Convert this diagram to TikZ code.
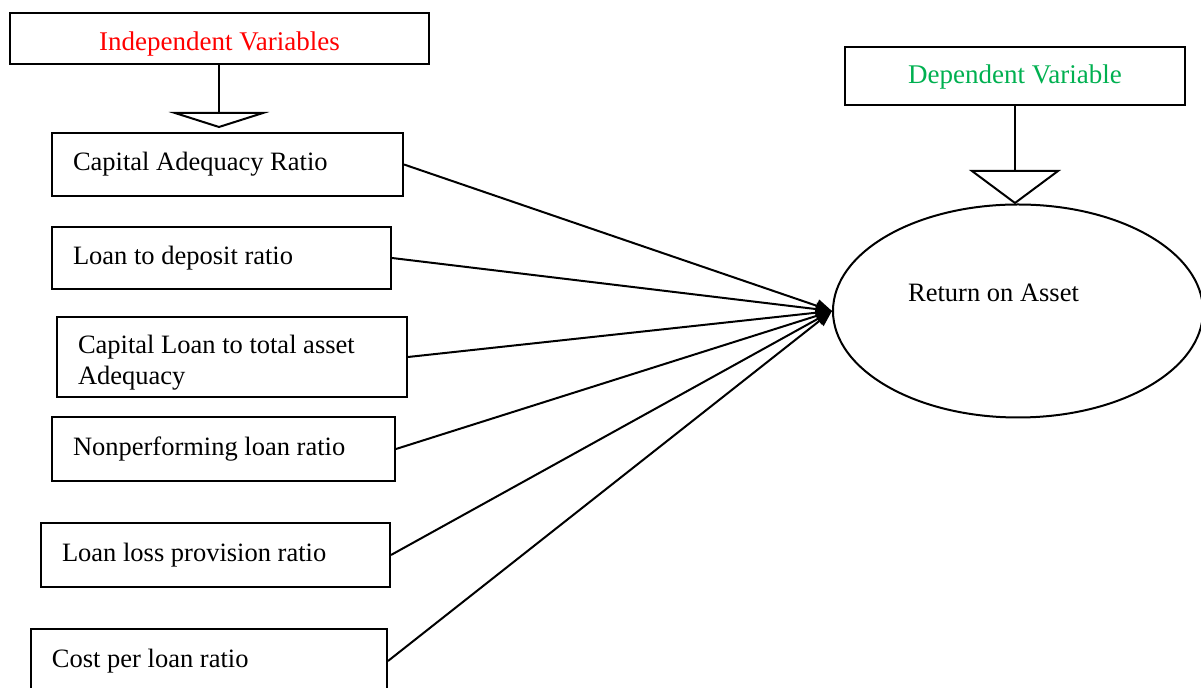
\documentclass[tikz,border=0pt]{standalone}
\usepackage{fontspec}
\setmainfont{Liberation Serif}
\usetikzlibrary{shapes.geometric,arrows.meta}
\definecolor{ivred}{RGB}{255,0,0}
\definecolor{dvgreen}{RGB}{0,176,80}
\begin{document}
\begin{tikzpicture}[x=0.5pt,y=-0.5pt,
  font=\fontsize{13.25}{15.5}\selectfont,
  hbox/.style={draw, line width=1pt, inner sep=0pt, align=center, font=\fontsize{13.5}{16}\selectfont},
  varbox/.style 2 args={draw, line width=1pt, minimum width=#1, minimum height=#2, inner xsep=10.5pt, inner ysep=0pt, text width=#1-21pt, align=left, execute at begin node={\spaceskip=0pt\xspaceskip=0pt\relax}},
  link/.style={line width=1pt, -{Triangle[length=8pt,width=6.5pt]}},
  tri/.style={line width=1pt}
]
\useasboundingbox (0,0) rectangle (1201,688);
\clip (0,0) rectangle (1201,688);
% headers
\node[hbox, minimum width=209.5pt, minimum height=25.5pt, text=ivred, text height=12pt, text depth=0pt] (iv) at (219.5,38.5) {Independent Variables};
\node[hbox, minimum width=170pt, minimum height=29pt, text=dvgreen, text height=10pt, text depth=2pt] (dv) at (1015,76) {Dependent Variable};
% triangles
\coordinate (t1) at (219,113);
\coordinate (t2) at (1015,171);
\draw[tri] (iv.south -| t1) -- (t1);
\draw[tri] (175,113) -- (263,113) -- (219,127) -- cycle;
\draw[tri] (dv.south -| t2) -- (t2);
\draw[tri] (972,171) -- (1058,171) -- (1015,203) -- cycle;
% ellipse
\node[draw, ellipse, line width=1pt, minimum width=185pt, minimum height=106.5pt, inner sep=0pt] (roa) at (1018,311) {};
\node[inner sep=0pt] (roatext) at (993.5,293) {Return on Asset};
% variable boxes
\node[varbox={175.5pt}{31.5pt}] (b1) at (227.5,164.5) {Capital Adequacy Ratio};
\node[varbox={169.5pt}{31pt}] (b2) at (221.5,258) {Loan to deposit ratio};
\node[varbox={175pt}{40pt}] (b3) at (232,357) {\rule{0pt}{15pt}Capital Loan to total asset\\Adequacy};
\node[varbox={171.5pt}{32pt}] (b4) at (223.5,449) {Nonperforming loan ratio};
\node[varbox={174.5pt}{32pt}] (b5) at (215.5,555) {Loan loss provision ratio};
\node[varbox={178pt}{32pt}] (b6) at (209,661) {Cost per loan ratio};
% connectors
\foreach \b in {b1,b2,b3,b4,b5,b6}
  \draw[link] (\b.east) -- (roa.west);
\end{tikzpicture}
\end{document}
